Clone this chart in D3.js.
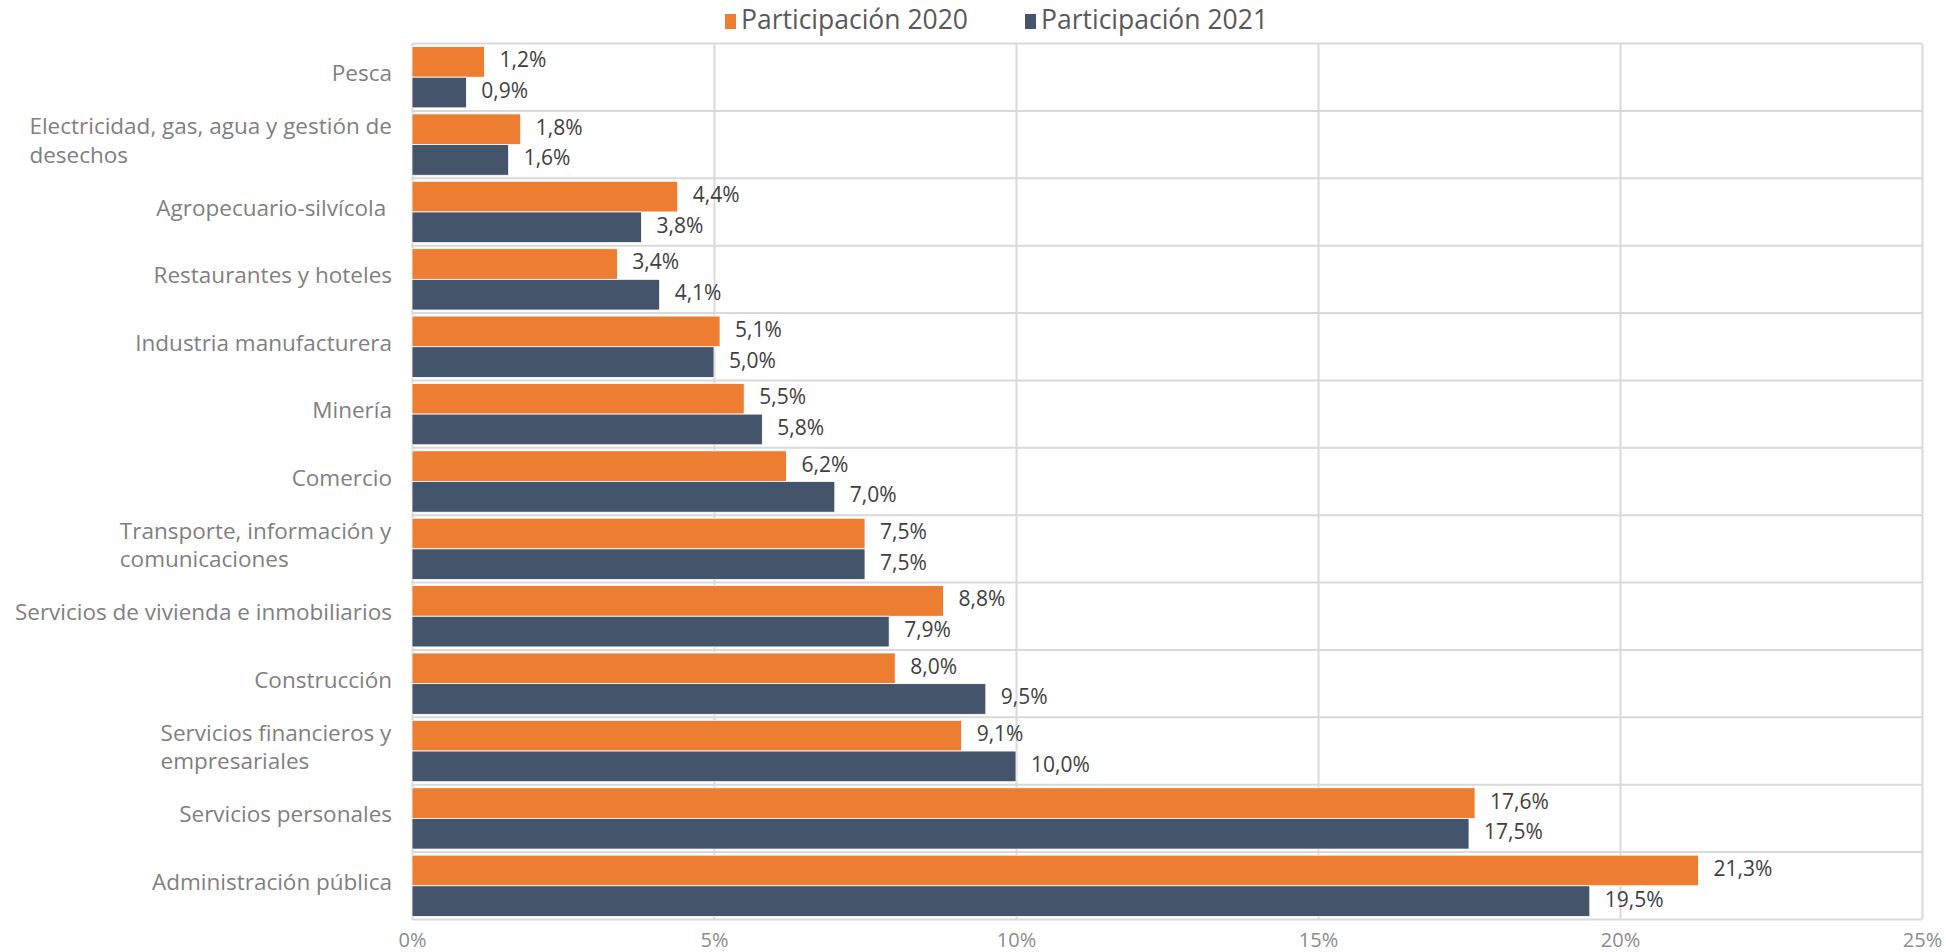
<!DOCTYPE html>
<html>
<head>
<meta charset="utf-8">
<script src="https://cdn.jsdelivr.net/npm/d3@7"></script>
<style>
  body { margin: 0; background: #fff; }
  text { font-family: "Open Sans", sans-serif; }
</style>
</head>
<body>
<div id="content"></div>
<script>
const CATEGORIES = [
  ['Pesca'],
  ['Electricidad, gas, agua y gestión de', 'desechos'],
  ['Agropecuario-silvícola '],
  ['Restaurantes y hoteles'],
  ['Industria manufacturera'],
  ['Minería'],
  ['Comercio'],
  ['Transporte, información y', 'comunicaciones'],
  ['Servicios de vivienda e inmobiliarios'],
  ['Construcción'],
  ['Servicios financieros y', 'empresariales'],
  ['Servicios personales'],
  ['Administración pública']
];
const SERIES = ['Participación 2020', 'Participación 2021'];
const VALUES_2020 = [1.2, 1.8, 4.4, 3.4, 5.1, 5.5, 6.2, 7.5, 8.8, 8.0, 9.1, 17.6, 21.3];
const VALUES_2021 = [0.9, 1.6, 3.8, 4.1, 5.0, 5.8, 7.0, 7.5, 7.9, 9.5, 10.0, 17.5, 19.5];
const X_TICKS = [0, 5, 10, 15, 20, 25];
const COLORS = ['#ED7D31', '#44546A'];

var width = 1946;
var height = 952;
var plotLeft = 412, plotRight = 1922, plotTop = 43.5, plotBottom = 919.5;

var svg = d3.select('#content')
  .append('svg')
  .attr('width', width)
  .attr('height', height);

var rows = CATEGORIES.map(function (c, i) {
  return {label: c, key: i, vals: [VALUES_2020[i], VALUES_2021[i]]};
});

var xScale = d3.scaleLinear().domain([0, 25]).range([plotLeft, plotRight]);
var yScale = d3.scaleBand()
  .domain(d3.range(CATEGORIES.length))
  .range([plotTop, plotBottom])
  .paddingInner(0.09)
  .paddingOuter(0.045);
var yOuter = d3.scaleBand()
  .domain(d3.range(CATEGORIES.length))
  .range([plotTop, plotBottom]);
var sub = d3.scaleBand().domain([0, 1]).range([0, yScale.bandwidth()]);

// horizontal gridlines at category boundaries
svg.append('g')
  .selectAll('line')
  .data(d3.range(CATEGORIES.length + 1))
  .enter()
  .append('line')
  .attr('x1', plotLeft).attr('x2', plotRight)
  .attr('y1', function (d) { return d < CATEGORIES.length ? yOuter(d) : plotBottom; })
  .attr('y2', function (d) { return d < CATEGORIES.length ? yOuter(d) : plotBottom; })
  .attr('stroke', '#d9d9d9')
  .attr('stroke-width', 2);

// vertical gridlines + tick labels
var xAxis = d3.axisBottom(xScale)
  .tickValues(X_TICKS)
  .tickSize(-(plotBottom - plotTop))
  .tickPadding(13)
  .tickFormat(function (d) { return d + '%'; });

var gx = svg.append('g')
  .attr('transform', 'translate(0,' + plotBottom + ')')
  .call(xAxis);
gx.select('.domain').remove();
gx.selectAll('line').attr('stroke', '#d9d9d9').attr('stroke-width', 2);
gx.selectAll('text')
  .attr('fill', '#8c8c8c')
  .style('font-size', '20px');

// bars
var groups = svg.append('g')
  .selectAll('g')
  .data(rows)
  .enter()
  .append('g')
  .attr('transform', function (r) { return 'translate(0,' + yScale(r.key) + ')'; });

groups.selectAll('rect')
  .data(function (r) { return r.vals; })
  .enter()
  .append('rect')
  .attr('x', xScale(0))
  .attr('y', function (v, i) { return sub(i); })
  .attr('width', function (v) { return xScale(v) - xScale(0); })
  .attr('height', sub.bandwidth())
  .attr('fill', function (v, i) { return COLORS[i]; })
  .attr('stroke', '#ffffff')
  .attr('stroke-width', 0.8);

groups.selectAll('.bar-label')
  .data(function (r) { return r.vals; })
  .enter()
  .append('text')
  .attr('class', 'bar-label')
  .attr('x', function (v) { return xScale(v) + 15; })
  .attr('y', function (v, i) { return sub(i) + sub.bandwidth() / 2; })
  .attr('dy', '0.26em')
  .attr('fill', '#404040')
  .style('font-size', '21px')
  .text(function (v) { return d3.format('.1f')(v).replace('.', ',') + '%'; });

// category labels, lines left-aligned inside a right-aligned block
var catLabels = svg.append('g')
  .selectAll('text')
  .data(rows)
  .enter()
  .append('text')
  .attr('fill', '#7f7f7f')
  .style('font-size', '22.5px')
  .style('white-space', 'pre')
  .attr('y', function (r) {
    return yOuter(r.key) + yOuter.bandwidth() / 2 - (r.label.length - 1) * 28.5 / 2;
  });

catLabels.selectAll('tspan')
  .data(function (r) { return r.label; })
  .enter()
  .append('tspan')
  .attr('x', 0)
  .attr('dy', function (t, i) { return i === 0 ? 4 : 28.5; })
  .text(function (t) { return t; });

catLabels.each(function () {
  var el = d3.select(this);
  var w = this.getBBox().width;
  el.selectAll('tspan').attr('x', 392 - w);
});

// legend
var legend = svg.append('g');
var lx = 725;
SERIES.forEach(function (s, i) {
  var g = legend.append('g').attr('transform', 'translate(' + lx + ',0)');
  g.append('rect')
    .attr('x', 0).attr('y', 14)
    .attr('width', 11).attr('height', 15)
    .attr('fill', COLORS[i]);
  var t = g.append('text')
    .attr('x', 16).attr('y', 20)
    .attr('dy', '0.35em')
    .attr('fill', '#595959')
    .style('font-size', '26.5px')
    .text(s);
  lx += 16 + t.node().getComputedTextLength() + 57;
});
</script>
</body>
</html>
